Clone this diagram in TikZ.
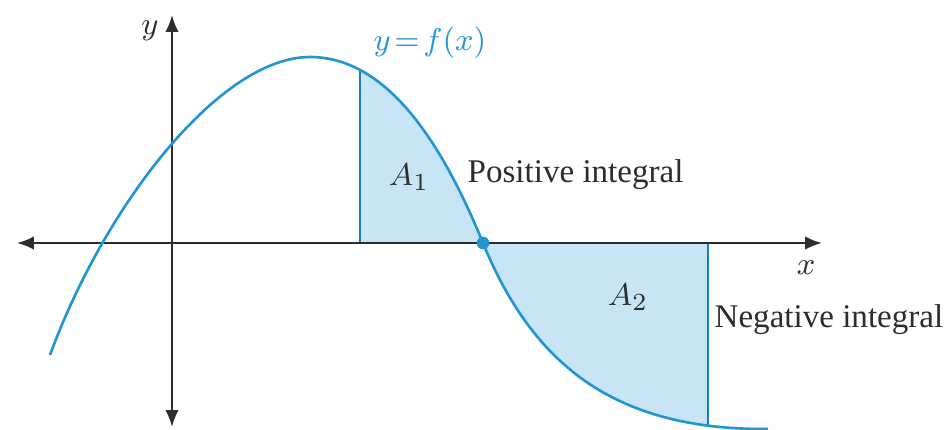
\documentclass[tikz,border=0pt]{standalone}
\usepackage{fontspec}
\setmainfont{Liberation Serif}
\usetikzlibrary{arrows.meta}
\definecolor{curveblue}{RGB}{35,150,210}
\definecolor{areablue}{RGB}{200,229,245}
\definecolor{edgeblue}{RGB}{30,125,190}
\definecolor{axisgray}{RGB}{45,45,45}
\newcommand\graphpath{(50,355) .. controls (105,205) and (220,57) .. (310,57)
      .. controls (390,57) and (445,150) .. (483,243)
      .. controls (535,370) and (620,430) .. (768,429)}

\begin{document}
\begin{tikzpicture}[x=0.01cm,y=-0.01cm,
  axis/.style={draw=axisgray,line width=0.6pt,{Latex[length=4.8pt,width=3.8pt]}-{Latex[length=4.8pt,width=3.8pt]}},
  graph/.style={draw=curveblue,line width=0.75pt},
  lbl/.style={font=\fontsize{9.4}{11}\selectfont,text=axisgray,inner sep=0pt}]
\useasboundingbox (0,0) rectangle (950,429);

% shaded areas A1 and A2
\begin{scope}
  \clip (360,0) rectangle (708,429);
  \fill[areablue] \graphpath -- (768,243) -- (50,243) -- cycle;
\end{scope}
\begin{scope}
  \clip \graphpath -- (768,243) -- (50,243) -- cycle;
  \draw[edgeblue,line width=0.8pt] (360,0) -- (360,243);
  \draw[edgeblue,line width=0.8pt] (708,243) -- (708,429);
\end{scope}

% axes
\coordinate (xleft) at (17,243);
\coordinate (xright) at (822,243);
\coordinate (ytop) at (172,15);
\coordinate (ybottom) at (172,427);
\draw[axis] (xleft) -- (xright);
\draw[axis] (ybottom) -- (ytop);

% the graph
\draw[graph] \graphpath;
\node[circle,fill=curveblue,inner sep=0pt,minimum size=3.6pt] (root) at (483,243) {};

\node[lbl] (xlab) at (806,268) {$x$};
\node[lbl] (ylab) at (150,31) {$y$};
\node[lbl,text=curveblue] (flab) at (430,43) {$y\!=\!f(x)$};
\node[lbl] (aone) at (409,177) {$A_1$};
\node[lbl] (atwo) at (628,297) {$A_2$};
\node[lbl,anchor=base west] (pos) at (467,182) {Positive integral};
\node[lbl,anchor=base west] (neg) at (714,327) {Negative integral};
\end{tikzpicture}
\end{document}
